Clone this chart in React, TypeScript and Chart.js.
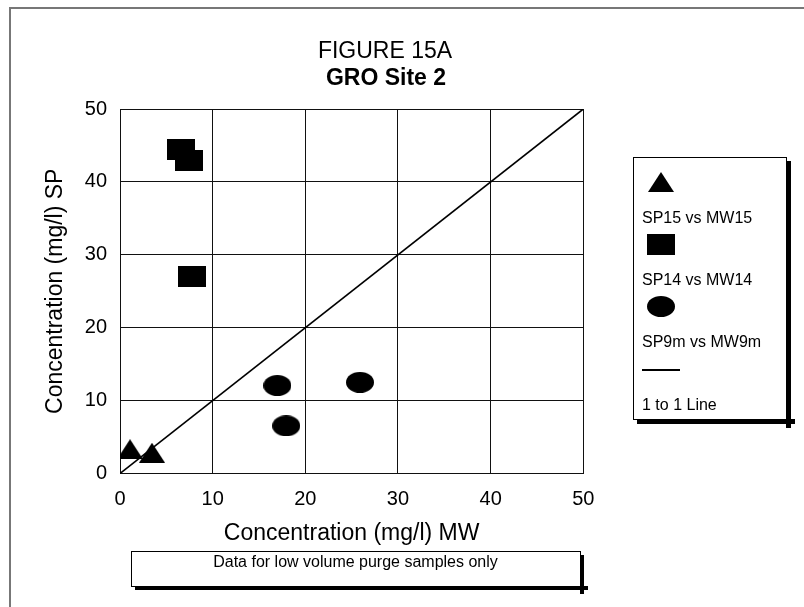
import React, { useEffect, useRef } from "react";
import { Chart, registerables } from "chart.js";

Chart.register(...registerables);

// ---- data ----
const sp15MW = [1.08, 3.45];
const sp15SP = [3.33, 2.85];
const sp14MW = [6.55, 7.41, 7.82];
const sp14SP = [44.4, 43.0, 27.0];
const sp9mMW = [16.98, 25.9, 17.94];
const sp9mSP = [12.07, 12.5, 6.54];
const oneToOneMW = [0, 50];
const oneToOneSP = [0, 50];
const seriesNames = ["SP15 vs MW15", "SP14 vs MW14", "SP9m vs MW9m", "1 to 1 Line"];
const axisMin = 0;
const axisMax = 50;
const axisStep = 10;
const titleLines = ["FIGURE 15A", "GRO Site 2"];
const noteText = "Data for low volume purge samples only";
const xTitle = "Concentration (mg/l) MW";
const yTitle = "Concentration (mg/l) SP";

const FONT = "'Liberation Sans', Arial, sans-serif";

function makeMarker(kind: string, w: number, h: number) {
  const c = document.createElement("canvas");
  c.width = w;
  c.height = h;
  const g = c.getContext("2d")!;
  g.fillStyle = "#000";
  if (kind === "triangle") {
    g.beginPath();
    g.moveTo(w / 2, 0);
    g.lineTo(w, h);
    g.lineTo(0, h);
    g.closePath();
    g.fill();
  } else if (kind === "rect") {
    g.fillRect(0, 0, w, h);
  } else {
    g.beginPath();
    g.ellipse(w / 2, h / 2, w / 2, h / 2, 0, 0, Math.PI * 2);
    g.fill();
  }
  return c;
}

const pts = (xs: number[], ys: number[]) => xs.map((x, i) => ({ x, y: ys[i] }));

export default function App() {
  const ref = useRef<HTMLCanvasElement>(null);
  useEffect(() => {
    const canvas = ref.current!;
    const tri = makeMarker("triangle", 26, 20);
    const sq = makeMarker("rect", 28, 21);
    const ell = makeMarker("ellipse", 28, 21);
    const markers = [tri, sq, ell];

    const decor = {
      id: "decor",
      afterDraw(chart: any) {
        const ctx = chart.ctx as CanvasRenderingContext2D;
        ctx.save();
        // outer frame (top & left)
        ctx.strokeStyle = "#777";
        ctx.lineWidth = 2;
        ctx.beginPath();
        ctx.moveTo(10, 607);
        ctx.lineTo(10, 8);
        ctx.lineTo(804, 8);
        ctx.stroke();

        // titles
        ctx.fillStyle = "#000";
        ctx.textAlign = "center";
        ctx.textBaseline = "middle";
        ctx.font = `23px ${FONT}`;
        ctx.fillText(titleLines[0], 385, 52);
        ctx.font = `bold 23px ${FONT}`;
        ctx.fillText(titleLines[1], 386, 79);

        // legend box
        const lx = 633, ly = 157, lw = 153, lh = 262;
        ctx.fillStyle = "#000";
        ctx.fillRect(lx + lw, ly + 4, 5, lh + 5);
        ctx.fillRect(lx + 4, ly + lh, lw + 5, 5);
        ctx.fillStyle = "#fff";
        ctx.fillRect(lx, ly, lw, lh);
        ctx.strokeStyle = "#000";
        ctx.lineWidth = 1;
        ctx.strokeRect(lx + 0.5, ly + 0.5, lw, lh);

        const symX = 661;
        const textX = 642;
        const symY = [181.5, 244, 306.5];
        const txtY = [218.5, 281, 343];
        ctx.font = `16px ${FONT}`;
        ctx.textAlign = "left";
        ctx.textBaseline = "middle";
        ctx.fillStyle = "#000";
        for (let i = 0; i < 3; i++) {
          const m = markers[i];
          ctx.drawImage(m, Math.round(symX - m.width / 2), Math.round(symY[i] - m.height / 2));
          ctx.fillText(seriesNames[i], textX, txtY[i]);
        }
        ctx.beginPath();
        ctx.lineWidth = 2;
        ctx.moveTo(642, 370);
        ctx.lineTo(680, 370);
        ctx.stroke();
        ctx.fillText(seriesNames[3], textX, 406);

        // note box
        const nx = 131, ny = 551, nw = 449, nh = 35;
        ctx.fillStyle = "#000";
        ctx.fillRect(nx + 4, ny + nh, nw + 4, 4);
        ctx.fillRect(nx + nw, ny + 4, 4, nh + 4);
        ctx.fillStyle = "#fff";
        ctx.fillRect(nx, ny, nw, nh);
        ctx.strokeStyle = "#000";
        ctx.lineWidth = 1;
        ctx.strokeRect(nx + 0.5, ny + 0.5, nw, nh);
        ctx.fillStyle = "#000";
        ctx.textAlign = "center";
        ctx.font = `16px ${FONT}`;
        ctx.fillText(noteText, nx + nw / 2, 563);
        ctx.restore();
      },
    };

    const chart = new Chart(canvas, {
      type: "scatter",
      data: {
        datasets: [
          {
            type: "line",
            label: seriesNames[3],
            data: pts(oneToOneMW, oneToOneSP),
            borderColor: "#000",
            borderWidth: 1.6,
            pointRadius: 0,
            fill: false,
            order: 4,
          } as any,
          {
            label: seriesNames[0],
            data: pts(sp15MW, sp15SP),
            pointStyle: tri,
            pointRadius: 12,
            backgroundColor: "#000",
            borderColor: "#000",
            order: 1,
          },
          {
            label: seriesNames[1],
            data: pts(sp14MW, sp14SP),
            pointStyle: sq,
            pointRadius: 12,
            backgroundColor: "#000",
            borderColor: "#000",
            order: 2,
          },
          {
            label: seriesNames[2],
            data: pts(sp9mMW, sp9mSP),
            pointStyle: ell,
            pointRadius: 12,
            backgroundColor: "#000",
            borderColor: "#000",
            order: 3,
          },
        ],
      },
      options: {
        responsive: false,
        devicePixelRatio: 1,
        animation: false,
        layout: { padding: { left: 0, top: 109, right: 220.7, bottom: 0 } },
        plugins: {
          legend: { display: false },
          tooltip: { enabled: false },
          title: { display: false },
        },
        scales: {
          x: {
            type: "linear",
            min: axisMin,
            max: axisMax,
            ticks: {
              stepSize: axisStep,
              color: "#000",
              font: { family: FONT, size: 20 },
              padding: 14,
            },
            grid: { color: "#111", lineWidth: 1, drawTicks: false },
            border: { color: "#111", width: 1 },
            title: {
              display: true,
              text: xTitle,
              color: "#000",
              font: { family: FONT, size: 23 },
              padding: { top: 0, bottom: 59.6 },
            },
            afterFit: (s: any) => {
              s.height = 133.5;
            },
          },
          y: {
            type: "linear",
            min: axisMin,
            max: axisMax,
            ticks: {
              stepSize: axisStep,
              color: "#000",
              font: { family: FONT, size: 20 },
              padding: 13,
            },
            grid: { color: "#111", lineWidth: 1, drawTicks: false },
            border: { color: "#111", width: 1 },
            title: {
              display: true,
              text: yTitle,
              color: "#000",
              font: { family: FONT, size: 23 },
              padding: { top: 41.4, bottom: 0 },
            },
            afterFit: (s: any) => {
              s.width = 120;
            },
          },
        },
      },
      plugins: [decor],
    });
    return () => chart.destroy();
  }, []);
  return (
    <div style={{ position: "absolute", left: 0, top: 0, width: 804, height: 607, background: "#fff" }}>
      <canvas ref={ref} width={804} height={607} style={{ display: "block", width: 804, height: 607 }} />
    </div>
  );
}
